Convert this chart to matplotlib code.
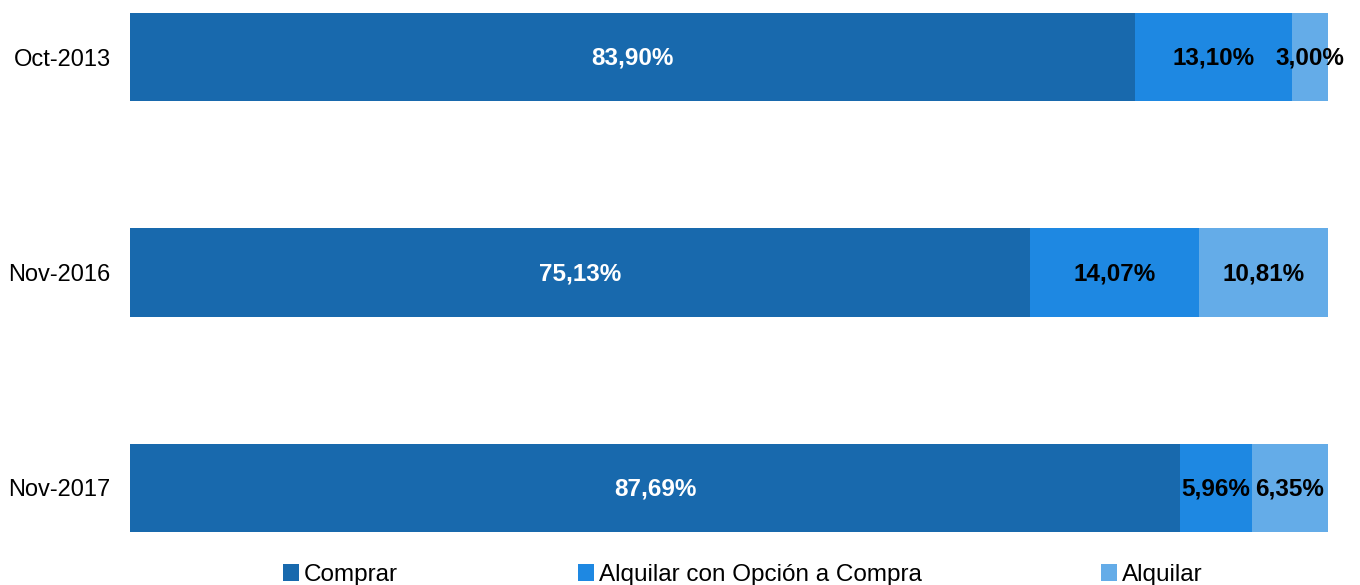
import matplotlib.pyplot as plt
import numpy as np

plt.rcParams['font.family'] = ['Liberation Sans', 'DejaVu Sans']

periods = ['Oct-2013', 'Nov-2016', 'Nov-2017']
series = ['Comprar', 'Alquilar con Opción a Compra', 'Alquilar']
comprar = [83.90, 75.13, 87.69]
opcion = [13.10, 14.07, 5.96]
alquilar = [3.00, 10.81, 6.35]
colors = ['#1869ad', '#1e88e2', '#64ace8']
label_colors = ['white', 'black', 'black']

fig = plt.figure(figsize=(13.6, 5.85), dpi=100)
ax = fig.add_axes([130 / 1360, 1 - 532 / 585, 1198 / 1360, 519 / 585])

y = np.arange(len(periods))
left = np.zeros(len(periods))
h = 0.41
for vals, name, col, lc in zip([comprar, opcion, alquilar], series, colors, label_colors):
    vals = np.array(vals)
    bars = ax.barh(y, vals, left=left, height=h, color=col, label=name)
    for b, v in zip(bars, vals):
        ax.text(b.get_x() + b.get_width() / 2, b.get_y() + b.get_height() / 2 + 0.005,
                f'{v:.2f}%'.replace('.', ','), ha='center', va='center',
                color=lc, fontsize=17.5, fontweight='bold')
    left += vals

ax.set_xlim(0, left.max())
ax.set_ylim(2 + h / 2, -h / 2)
ax.set_yticks(y)
ax.set_yticklabels(periods, fontsize=17)
ax.tick_params(axis='y', length=0, pad=14)
ax.set_xticks([])
for s in ax.spines.values():
    s.set_visible(False)

handles, labels = ax.get_legend_handles_labels()
fig.legend(handles, labels, loc='center', bbox_to_anchor=(743 / 1360, 0.017),
           ncol=3, frameon=False, fontsize=17.5, handlelength=0.66,
           handleheight=0.66, handletextpad=0.2, columnspacing=7.4,
           borderaxespad=0, borderpad=0)

fig.savefig('out.png', dpi=100)
